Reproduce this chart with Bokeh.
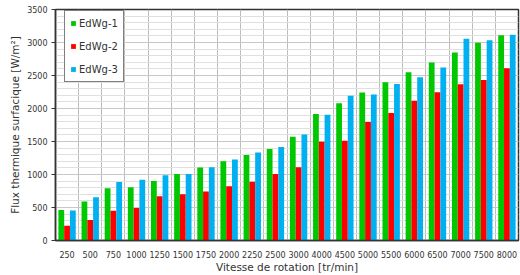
from bokeh.plotting import figure
from bokeh.models import ColumnDataSource, Range1d, FixedTicker, SingleIntervalTicker, Legend, LegendItem
from bokeh.transform import dodge
from bokeh.embed import file_html
from bokeh.resources import INLINE

categories = ["250", "500", "750", "1000", "1250", "1500", "1750", "2000", "2250", "2500",
              "3000", "4000", "4500", "5000", "5500", "6000", "6500", "7000", "7500", "8000"]
edwg1 = [462, 592, 792, 806, 902, 1006, 1106, 1202, 1296, 1386,
         1572, 1918, 2078, 2243, 2398, 2548, 2698, 2848, 2998, 3108]
edwg2 = [222, 312, 452, 492, 672, 702, 742, 822, 892, 1006,
         1110, 1498, 1512, 1797, 1932, 2117, 2248, 2368, 2432, 2608]
edwg3 = [456, 656, 886, 920, 988, 1008, 1108, 1228, 1332, 1416,
         1606, 1906, 2192, 2212, 2372, 2473, 2623, 3058, 3033, 3118]
series_names = ["EdWg-1", "EdWg-2", "EdWg-3"]
colors = ["#00c800", "#ff0000", "#00b0f0"]

idx = list(range(len(categories)))
src = ColumnDataSource(dict(x=idx, s1=edwg1, s2=edwg2, s3=edwg3))

FONT = "DejaVu Sans"

p = figure(width=520, height=275, output_backend="svg", toolbar_location=None,
           x_range=Range1d(-0.5, len(categories) - 0.5), y_range=Range1d(0, 3500),
           min_border_left=55, min_border_right=2, min_border_top=9, min_border_bottom=33)
p.background_fill_color = "white"
p.border_fill_color = "white"
p.outline_line_color = "#333333"
p.outline_line_width = 1.5

renderers = []
for k, (col, name, c) in enumerate(zip(["s1", "s2", "s3"], series_names, colors)):
    r = p.vbar(x=dodge("x", (k - 1) * 0.25, range=p.x_range), top=col, width=0.25,
               bottom=0, source=src, fill_color=c, line_color=None)
    renderers.append((name, r))

# X axis
p.xaxis.ticker = FixedTicker(ticks=idx)
p.xaxis.major_label_overrides = {i: c for i, c in zip(idx, categories)}
p.xaxis.major_tick_line_color = None
p.xaxis.minor_tick_line_color = None
p.xaxis.axis_line_color = "#333333"
p.xaxis.axis_line_width = 1.5
p.xaxis.major_label_text_font = FONT
p.xaxis.major_label_text_font_size = "8px"
p.xaxis.major_label_text_color = "#333333"
p.xaxis.major_label_standoff = 4
p.xaxis.axis_label = "Vitesse de rotation [tr/min]"
p.xaxis.axis_label_text_font = FONT
p.xaxis.axis_label_text_font_size = "10.5px"
p.xaxis.axis_label_text_font_style = "normal"
p.xaxis.axis_label_text_color = "#333333"
p.xaxis.axis_label_standoff = 0

# Y axis
p.yaxis.ticker = SingleIntervalTicker(interval=500, num_minor_ticks=5)
p.yaxis.major_tick_in = 0
p.yaxis.major_tick_out = 4
p.yaxis.major_tick_line_color = "#333333"
p.yaxis.minor_tick_line_color = None
p.yaxis.axis_line_color = "#333333"
p.yaxis.axis_line_width = 1.5
p.yaxis.major_label_text_font = FONT
p.yaxis.major_label_text_font_size = "8px"
p.yaxis.major_label_text_color = "#333333"
p.yaxis.major_label_standoff = 4
p.yaxis.axis_label = "Flux thermique surfacique [W/m²]"
p.yaxis.axis_label_text_font = FONT
p.yaxis.axis_label_text_font_size = "10.5px"
p.yaxis.axis_label_text_font_style = "normal"
p.yaxis.axis_label_text_color = "#333333"
p.yaxis.axis_label_standoff = 3

# Grids
p.xgrid.ticker = FixedTicker(ticks=[i + 0.5 for i in idx[:-1]])
p.xgrid.grid_line_color = "#bcbcbc"
p.xgrid.grid_line_width = 1
p.ygrid.grid_line_color = "#c8c8c8"
p.ygrid.minor_grid_line_color = "#e0e0e0"

legend = Legend(items=[LegendItem(label=n, renderers=[r]) for n, r in renderers],
                location=(9, 158))
legend.border_line_color = "black"
legend.border_line_width = 1.5
legend.background_fill_color = "white"
legend.background_fill_alpha = 1
legend.label_text_font = FONT
legend.label_text_font_size = "10px"
legend.label_text_color = "#333333"
legend.glyph_width = 6
legend.glyph_height = 6
legend.label_height = 14
legend.label_standoff = 3
legend.spacing = 9
legend.padding = 5
legend.margin = 0
legend.label_text_baseline = "middle"
p.add_layout(legend, "center")

open("out.html", "w").write(file_html(p, INLINE))
